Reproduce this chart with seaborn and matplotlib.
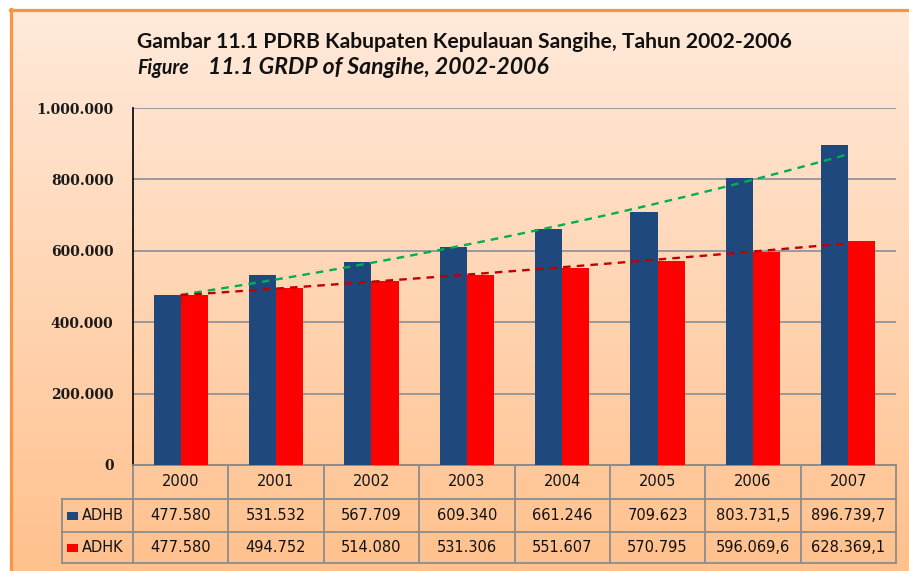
import numpy as np
import pandas as pd
import matplotlib
matplotlib.use("Agg")
import matplotlib.pyplot as plt
import seaborn as sns
from matplotlib.transforms import blended_transform_factory
from matplotlib.lines import Line2D
from matplotlib.patches import Rectangle
from matplotlib.ticker import FuncFormatter, MultipleLocator

# ---------------- data ----------------
years = ["2000", "2001", "2002", "2003", "2004", "2005", "2006", "2007"]
adhb = [477580, 531532, 567709, 609340, 661246, 709623, 803731.5, 896739.7]
adhk = [477580, 494752, 514080, 531306, 551607, 570795, 596069.6, 628369.1]
series_names = ["ADHB", "ADHK"]
title1 = "Gambar 11.1 PDRB Kabupaten Kepulauan Sangihe, Tahun 2002-2006"
title2a = "Figure"
title2b = "11.1 GRDP of Sangihe, 2002-2006"

BLUE = "#1F497D"
RED = "#FF0000"
GREEN_TR = "#00B050"
RED_TR = "#C00000"
GRID = "#7F8896"
TABLE = "#8C8C8C"


def fmt_id(v):
    if abs(v - round(v)) < 1e-9:
        return f"{int(round(v)):,}".replace(",", ".")
    s = f"{v:,.1f}"
    return s.replace(",", "X").replace(".", ",").replace("X", ".")


df = pd.DataFrame({
    "year": years * 2,
    "value": adhb + adhk,
    "series": [series_names[0]] * len(years) + [series_names[1]] * len(years),
})

W, H = 909, 571
fig = plt.figure(figsize=(W / 100, H / 100), dpi=100)
fig.patch.set_facecolor("white")

# background gradient (extends past right/bottom edges)
bg = fig.add_axes([10 / W, -0.02, 1.05, (H - 9) / H + 0.02])
top = np.array([0xFF, 0xEA, 0xDB]) / 255
bot = np.array([0xFF, 0xC0, 0x8B]) / 255
t = np.linspace(0, 1, 256)[:, None]
grad = top[None, :] * (1 - t) + bot[None, :] * t
bg.imshow(grad[:, None, :], aspect="auto", extent=[0, 1, 0, 1], origin="upper",
          interpolation="bilinear")
bg.set_axis_off()
bg.set_zorder(-10)

# orange border (left and top only)
fig.add_artist(Line2D([11 / W, 11 / W], [0, (H - 9) / H], color="#F79646", lw=2.3,
                      transform=fig.transFigure))
fig.add_artist(Line2D([10 / W, 1], [(H - 9.5) / H, (H - 9.5) / H], color="#F79646", lw=2.3,
                      transform=fig.transFigure))

# main axes
x0, x1, ytop, ybot = 133, 896, 108, 465
ax = fig.add_axes([x0 / W, (H - ybot) / H, (x1 - x0) / W, (ybot - ytop) / H])
ax.set_facecolor("none")

sns.barplot(data=df, x="year", y="value", hue="series", order=years,
            hue_order=series_names, palette=[BLUE, RED], width=0.57,
            saturation=1, ax=ax, legend=False, edgecolor="none", zorder=3)

ax.set_ylim(0, 1_000_000)
ax.set_xlim(-0.5, len(years) - 0.5)
ax.yaxis.set_major_locator(MultipleLocator(200_000))
ax.yaxis.set_major_formatter(FuncFormatter(lambda v, p: fmt_id(v)))
ax.grid(axis="y", color=GRID, lw=1.1, zorder=0)
ax.set_axisbelow(True)
ax.tick_params(axis="y", length=0, pad=14)
ax.tick_params(axis="x", length=0, labelbottom=False)
for lab in ax.get_yticklabels():
    lab.set_fontfamily("DejaVu Serif")
    lab.set_fontweight("bold")
    lab.set_fontsize(10)
    lab.set_color("#1a1a1a")
ax.set_xlabel("")
ax.set_ylabel("")
for s in ["top", "right"]:
    ax.spines[s].set_visible(False)
ax.spines["left"].set_color("black")
ax.spines["left"].set_linewidth(1.2)
ax.spines["bottom"].set_color(TABLE)
ax.spines["bottom"].set_linewidth(1.2)

# exponential trend lines (like Excel)
xs = np.arange(len(years))
xd = np.linspace(0, len(years) - 1, 200)
for vals, c in [(adhb, GREEN_TR), (adhk, RED_TR)]:
    b, a = np.polyfit(xs, np.log(vals), 1)
    ax.plot(xd, np.exp(a + b * xd), color=c, lw=1.7, ls=(0, (3.2, 2.6)), zorder=5)

# data table below
tr = blended_transform_factory(ax.transData, ax.transAxes)
axh = ybot - ytop
r0, r1, r2, r3 = 0, -(499 - ybot) / axh, -(532 - ybot) / axh, -(563 - ybot) / axh
n = len(years)
cw = (x1 - x0) / n
leftx = (62 - x0) / cw - 0.5
lk = dict(color=TABLE, lw=1.3, transform=tr, clip_on=False)
ax.add_line(Line2D([-0.5, n - 0.5], [r0, r0], **lk))
for r in (r1, r2, r3):
    ax.add_line(Line2D([leftx, n - 0.5], [r, r], **lk))
ax.add_line(Line2D([leftx, leftx], [r1, r3], **lk))
for i in range(n + 1):
    ax.add_line(Line2D([i - 0.5, i - 0.5], [r0, r3], **lk))

tk = dict(transform=tr, clip_on=False, ha="center", va="center",
          fontsize=10.5, family="DejaVu Sans", color="#111111")
for i, y in enumerate(years):
    ax.text(i, (r0 + r1) / 2, y, **tk)
    ax.text(i, (r1 + r2) / 2, fmt_id(adhb[i]), **tk)
    ax.text(i, (r2 + r3) / 2, fmt_id(adhk[i]), **tk)

for name, col, (ra, rb) in [(series_names[0], BLUE, (r1, r2)), (series_names[1], RED, (r2, r3))]:
    mid = (ra + rb) / 2
    sq_h = 8 / axh
    ax.add_patch(Rectangle(((67 - x0) / cw - 0.5, mid - sq_h / 2), 11 / cw, sq_h,
                           facecolor=col, edgecolor="none", transform=tr, clip_on=False))
    ax.text((82 - x0) / cw - 0.5, mid, name, transform=tr, clip_on=False, ha="left",
            va="center", fontsize=10.5, family="DejaVu Sans", color="#111111")

# titles
renderer = fig.canvas.get_renderer()
t1 = fig.text(137 / W, 1 - 42 / H, title1, va="center", ha="left", family="Lato",
              fontweight="bold", fontsize=14, color="#111111")
w = t1.get_window_extent(renderer).width
t1.set_fontsize(14 * 660 / w)
t2b = fig.text(208 / W, 1 - 68 / H, title2b, va="center", ha="left", family="Lato",
               fontweight="bold", fontstyle="italic", fontsize=14, color="#111111")
w2 = t2b.get_window_extent(renderer).width
t2b.set_fontsize(14 * 340 / w2)
t2a = fig.text(137 / W, 1 - 68 / H, title2a, va="center", ha="left", family="Lato",
               fontweight="bold", fontstyle="italic", fontsize=14, color="#111111")
w3 = t2a.get_window_extent(renderer).width
t2a.set_fontsize(14 * 52 / w3)

fig.savefig("out.png", dpi=100)
